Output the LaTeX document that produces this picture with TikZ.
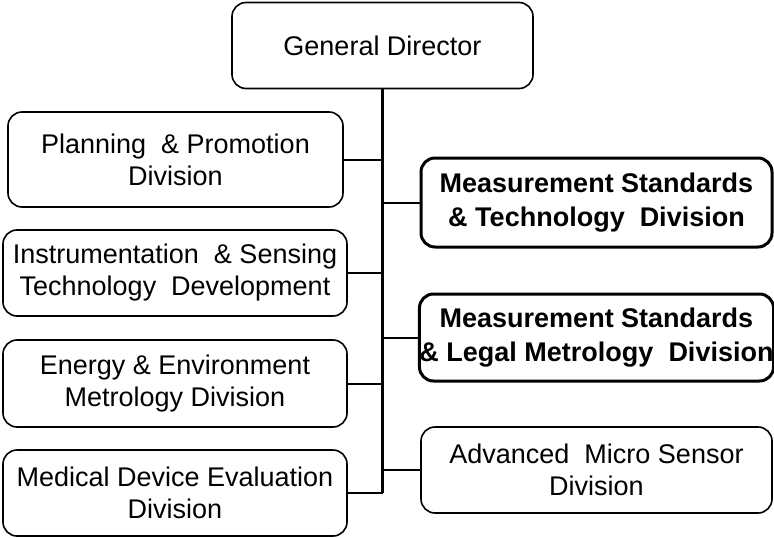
\documentclass[tikz,border=0pt]{standalone}
\usepackage{fontspec}
\setmainfont{Liberation Sans}
\usetikzlibrary{positioning}
\tikzstyle{unit} = [rectangle, draw, rounded corners=14pt, line width=1.6pt,
    align=center, inner sep=0pt, font=\fontsize{27}{32}\selectfont]
\tikzstyle{core} = [unit, line width=3pt, font=\bfseries\fontsize{27}{34}\selectfont]
\tikzstyle{link} = [line width=2pt]

\begin{document}
\begin{tikzpicture}[x=1pt,y=-1pt]
  \useasboundingbox (0,0) rectangle (774,538);
  \node[unit,minimum width=301pt,minimum height=86pt] (gd) at (382.5,45.5) {General Director};

  % left column
  \node[unit,minimum width=335pt,minimum height=95pt] (plan) at (175.5,159.5) {Planning \ \& Promotion\\Division};
  \node[unit,minimum width=344pt,minimum height=86pt] (inst) at (175,273) {Instrumentation \ \& Sensing\\Technology \ Development};
  \node[unit,minimum width=344pt,minimum height=87pt] (ener) at (175,383.5) {Energy \& Environment\\Metrology Division};
  \node[unit,minimum width=344pt,minimum height=86pt] (med) at (175,493) {Medical Device Evaluation\\Division};

  % right column
  \node[core,minimum width=351pt,minimum height=89pt] (tech) at (596.5,202.5) {Measurement Standards\\\& Technology \ Division};
  \node[core,minimum width=351pt,minimum height=87pt] (legal) at (596.5,337.5) {Measurement Standards\\\& Legal Metrology \ Division};
  \node[unit,minimum width=351pt,minimum height=86pt] (ams) at (596.5,470) {Advanced \ Micro Sensor\\Division};

  \coordinate (end) at (gd.south |- med.east);
  \draw[link,line width=2.8pt] (gd.south) -- (end);
  \foreach \n in {plan,inst,ener,med}
    \draw[link] (\n.east) -- (\n.east -| gd.south);
  \foreach \n in {tech,legal,ams}
    \draw[link] (\n.west) -- (\n.west -| gd.south);
\end{tikzpicture}
\end{document}
